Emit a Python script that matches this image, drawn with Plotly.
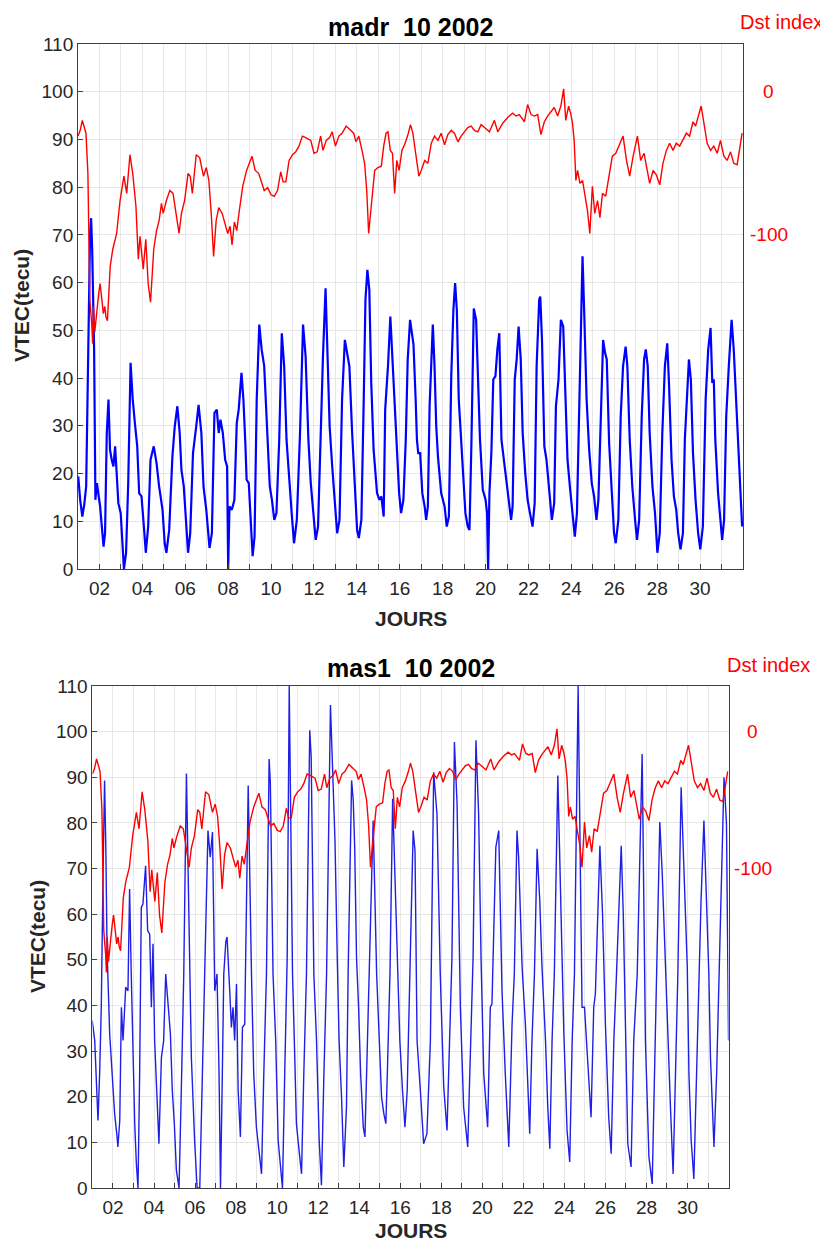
import plotly.graph_objects as go

# VTEC madr, octobre 2002 (jour du mois, tecu)
madr_days = [1.01, 1.10, 1.20, 1.29, 1.38, 1.44, 1.49, 1.56, 1.61, 1.66, 1.75, 1.81, 1.88, 1.95,
             2.03, 2.11, 2.19, 2.26, 2.34, 2.42, 2.49, 2.57, 2.65, 2.73, 2.80, 2.88, 2.99,
             3.08, 3.14, 3.24, 3.34, 3.45, 3.55, 3.65, 3.76, 3.85, 3.96,
             4.07, 4.16, 4.27, 4.38, 4.53, 4.66, 4.78, 4.94,
             5.04, 5.12, 5.25, 5.40, 5.51, 5.63, 5.74, 5.82, 5.93,
             6.02, 6.13, 6.23, 6.36, 6.51, 6.62, 6.75, 6.85, 6.98,
             7.05, 7.13, 7.24, 7.36, 7.47, 7.56, 7.64, 7.75, 7.86, 7.95,
             8.00, 8.06, 8.17, 8.29, 8.40, 8.49, 8.62, 8.71, 8.80, 8.86, 8.96,
             9.06, 9.14, 9.23, 9.33, 9.45, 9.56, 9.68, 9.84, 9.94,
             10.04, 10.15, 10.25, 10.38, 10.50, 10.61, 10.72, 10.84, 10.96,
             11.07, 11.20, 11.35, 11.49, 11.61, 11.74, 11.85, 11.95,
             12.08, 12.19, 12.31, 12.42, 12.54, 12.62, 12.73, 12.85, 12.97,
             13.08, 13.19, 13.31, 13.44, 13.55, 13.65, 13.78, 13.90,
             14.01, 14.09, 14.21, 14.32, 14.40, 14.49, 14.58, 14.67, 14.78, 14.94,
             15.05, 15.14, 15.25, 15.32, 15.45, 15.56, 15.63, 15.76, 15.86, 15.97,
             16.06, 16.17, 16.28, 16.37, 16.48, 16.56, 16.64, 16.74, 16.80, 16.86, 16.95,
             17.05, 17.16, 17.23, 17.31, 17.39, 17.47, 17.54, 17.62, 17.70, 17.78, 17.93,
             18.09, 18.19, 18.29, 18.40, 18.50, 18.58, 18.66, 18.75, 18.86, 18.97,
             19.06, 19.17, 19.25, 19.34, 19.45, 19.56, 19.65, 19.74, 19.87,
             20.00, 20.07, 20.12, 20.18, 20.27, 20.36, 20.46, 20.55, 20.64, 20.74, 20.83, 20.95,
             21.08, 21.19, 21.26, 21.36, 21.45, 21.54, 21.64, 21.73, 21.85, 21.96,
             22.07, 22.19, 22.29, 22.38, 22.50, 22.55, 22.63, 22.74, 22.84, 22.97,
             23.09, 23.20, 23.28, 23.40, 23.51, 23.62, 23.71, 23.82, 23.93,
             24.05, 24.16, 24.26, 24.36, 24.44, 24.52, 24.60, 24.71, 24.83, 24.95,
             25.06, 25.17, 25.26, 25.37, 25.48, 25.57, 25.65, 25.76, 25.87, 25.99,
             26.07, 26.19, 26.30, 26.41, 26.53, 26.61, 26.72, 26.84, 26.97,
             27.06, 27.16, 27.28, 27.39, 27.47, 27.56, 27.65, 27.78, 27.90,
             28.01, 28.12, 28.24, 28.36, 28.47, 28.55, 28.67, 28.78, 28.89, 28.98,
             29.09, 29.20, 29.29, 29.40, 29.48, 29.57, 29.67, 29.79, 29.91,
             30.01, 30.13, 30.26, 30.38, 30.49, 30.57, 30.64, 30.71, 30.84, 30.95,
             31.03, 31.12, 31.22, 31.34, 31.47, 31.57, 31.68, 31.81, 31.88, 31.96]
madr_vtec = [19.4, 14.5, 11.0, 13.5, 17.3, 35.5, 49.4, 70.0, 73.5, 66.9, 46.0, 14.5, 18.0, 16.0,
             13.1, 8.9, 4.7, 7.5, 28.5, 35.5, 25.0, 22.9, 21.5, 25.7, 20.1, 13.8, 11.7,
             4.7, 0.0, 3.4, 18.0, 43.2, 35.5, 30.6, 25.7, 15.9, 15.2,
             8.9, 3.4, 8.9, 22.9, 25.7, 22.2, 17.3, 12.4,
             5.4, 3.4, 8.2, 23.6, 29.9, 34.1, 28.5, 20.8, 17.3,
             11.0, 3.4, 7.5, 24.3, 29.9, 34.4, 28.5, 17.3, 12.4,
             8.2, 4.4, 7.5, 32.7, 33.4, 28.5, 31.3, 28.5, 22.9, 21.5,
             0.0, 13.1, 12.4, 14.5, 30.6, 33.4, 41.1, 35.5, 26.4, 18.7, 18.0,
             7.5, 2.7, 6.8, 35.5, 51.2, 46.0, 42.5, 27.8, 17.3,
             14.5, 10.3, 11.7, 27.1, 49.4, 42.5, 27.1, 18.7, 11.7,
             5.4, 10.3, 28.5, 51.2, 44.6, 27.1, 18.0, 12.4,
             6.1, 8.9, 28.5, 44.6, 58.8, 48.0, 29.9, 21.5, 14.5,
             7.5, 10.3, 35.5, 48.0, 44.6, 42.5, 28.5, 16.6,
             8.2, 6.5, 10.3, 35.5, 56.4, 62.7, 58.5, 39.0, 25.0, 15.9,
             14.5, 15.2, 11.0, 33.4, 42.5, 52.9, 46.0, 36.2, 26.4, 15.9,
             11.7, 14.5, 27.1, 43.9, 52.2, 49.4, 47.0, 35.5, 27.1, 24.3, 24.3,
             15.9, 13.1, 10.3, 13.1, 34.1, 42.5, 51.2, 42.5, 29.9, 23.6, 15.9,
             13.1, 8.9, 11.0, 40.4, 54.3, 59.9, 54.3, 35.5, 27.1, 17.3,
             11.7, 8.9, 8.2, 26.4, 54.6, 52.2, 41.1, 27.1, 16.6,
             14.5, 11.7, 0.0, 15.9, 24.3, 39.7, 40.4, 46.0, 49.4, 27.1, 23.6, 19.4,
             14.5, 10.3, 13.1, 39.7, 43.9, 50.8, 43.9, 28.5, 20.1, 14.5,
             11.7, 8.9, 13.8, 42.5, 56.4, 57.1, 48.0, 25.7, 22.9, 15.9,
             10.3, 13.8, 34.1, 39.7, 52.2, 50.8, 39.0, 22.9, 17.3,
             11.7, 6.8, 11.7, 35.5, 49.4, 65.5, 53.6, 35.5, 25.0, 18.0,
             15.2, 10.3, 14.5, 33.4, 48.0, 45.3, 43.9, 26.4, 15.9, 7.5,
             5.4, 10.3, 32.0, 42.5, 46.6, 42.5, 27.1, 17.3, 10.3,
             6.1, 10.3, 32.0, 43.9, 46.0, 42.5, 28.5, 17.3, 11.7,
             3.4, 7.5, 28.5, 42.5, 47.3, 39.0, 22.9, 15.2, 12.4, 7.5,
             4.1, 7.5, 27.1, 35.5, 43.9, 39.7, 24.3, 14.5, 7.5,
             4.1, 8.9, 35.5, 46.0, 50.5, 39.0, 39.7, 27.1, 15.9, 10.3,
             6.1, 10.3, 32.0, 42.5, 52.2, 46.0, 35.5, 21.5, 14.5, 8.9]

# VTEC mas1, octobre 2002
mas1_days = [0.99, 1.11, 1.19, 1.27, 1.35, 1.43, 1.52, 1.59, 1.65, 1.71, 1.84, 1.97,
             2.08, 2.20, 2.24, 2.33, 2.41, 2.49, 2.62, 2.73, 2.81, 2.89, 2.98,
             3.06, 3.14, 3.22, 3.30, 3.38, 3.46, 3.59, 3.69, 3.79, 3.87, 3.95,
             4.03, 4.15, 4.24, 4.36, 4.47, 4.57, 4.68, 4.80, 4.89, 4.99,
             5.09, 5.22, 5.33, 5.45, 5.58, 5.71, 5.82, 5.98,
             6.10, 6.23, 6.36, 6.47, 6.63, 6.74, 6.85, 6.96,
             7.07, 7.17, 7.24, 7.33, 7.40, 7.50, 7.56, 7.69, 7.77, 7.85, 7.93,
             8.02, 8.10, 8.21, 8.31, 8.42, 8.59, 8.75, 8.86, 8.99,
             9.12, 9.24, 9.35, 9.48, 9.61, 9.67, 9.80, 9.93,
             10.05, 10.16, 10.26, 10.37, 10.49, 10.59, 10.65, 10.75, 10.86, 10.94,
             11.07, 11.19, 11.30, 11.43, 11.59, 11.66, 11.79, 11.92,
             12.05, 12.16, 12.28, 12.41, 12.60, 12.66, 12.82, 12.93,
             13.02, 13.14, 13.25, 13.38, 13.46, 13.63, 13.71, 13.78, 13.87, 13.97,
             14.07, 14.20, 14.28, 14.36, 14.49, 14.68, 14.85, 14.98,
             15.09, 15.20, 15.30, 15.37, 15.50, 15.63, 15.72, 15.85, 15.98,
             16.11, 16.23, 16.34, 16.47, 16.63, 16.72, 16.82, 16.98,
             17.14, 17.30, 17.47, 17.63, 17.79, 17.95,
             18.12, 18.28, 18.41, 18.52, 18.64, 18.77, 18.93,
             19.09, 19.29, 19.42, 19.55, 19.69, 19.82, 19.94,
             20.07, 20.26, 20.39, 20.47, 20.66, 20.80, 20.96,
             21.12, 21.29, 21.45, 21.56, 21.69, 21.77, 21.94,
             22.10, 22.21, 22.31, 22.42, 22.54, 22.67, 22.80, 22.91,
             23.08, 23.19, 23.29, 23.40, 23.51, 23.68, 23.78, 23.89, 23.97,
             24.13, 24.26, 24.38, 24.49, 24.67, 24.78, 24.86, 24.98,
             25.19, 25.30, 25.43, 25.51, 25.73, 25.86,
             26.00, 26.16, 26.28, 26.41, 26.54, 26.77, 26.87, 26.98,
             27.09, 27.25, 27.38, 27.55, 27.71, 27.79, 27.95,
             28.12, 28.28, 28.39, 28.52, 28.65, 28.77, 28.98,
             29.09, 29.17, 29.30, 29.42, 29.53, 29.69, 29.79, 29.99,
             30.07, 30.18, 30.31, 30.47, 30.56, 30.66, 30.80,
             31.04, 31.12, 31.29, 31.42, 31.53, 31.78, 31.90, 31.94, 32.00]
mas1_vtec = [36.7, 32.3, 23.5, 14.8, 25.0, 39.6, 70.0, 89.3, 75.0, 52.7, 33.7, 25.0,
             16.3, 11.2, 9.0, 14.8, 39.6, 32.3, 44.0, 43.2, 65.5, 46.9, 27.2,
             14.1, 5.3, 0.0, 25.0, 61.5, 62.2, 70.6, 56.4, 55.6, 39.6, 53.5,
             32.3, 17.7, 9.7, 28.6, 32.3, 46.9, 39.6, 33.7, 21.4, 14.1,
             3.9, 0.0, 21.4, 46.9, 90.8, 54.0, 28.6, 10.4,
             0.0, 0.0, 25.0, 46.9, 78.3, 72.5, 78.0, 43.2,
             46.9, 25.0, 0.0, 25.0, 46.9, 54.0, 55.0, 43.2, 35.2, 39.6, 32.3,
             44.7, 21.4, 11.2, 35.2, 35.9, 88.2, 46.9, 25.0, 13.3,
             7.5, 3.1, 25.0, 46.9, 94.0, 88.6, 46.9, 32.3,
             10.4, 3.9, 0.0, 25.0, 50.5, 110.0, 90.0, 46.9, 28.6, 14.1,
             8.2, 3.1, 25.0, 46.9, 100.3, 94.4, 46.9, 32.3,
             10.4, 0.6, 25.0, 46.9, 105.8, 98.8, 76.1, 50.5,
             32.3, 19.9, 4.6, 17.7, 46.9, 89.3, 84.9, 74.7, 50.5, 39.6,
             25.0, 13.3, 11.2, 25.0, 46.9, 80.5, 46.9, 32.3,
             19.9, 16.3, 14.1, 25.0, 46.9, 85.3, 70.3, 50.5, 32.3,
             21.4, 13.3, 21.4, 46.9, 78.3, 73.9, 32.3, 21.4,
             9.7, 11.9, 32.3, 91.1, 82.0, 46.9,
             22.1, 12.6, 32.3, 50.5, 97.7, 84.2, 39.6,
             17.7, 9.0, 32.3, 50.5, 98.1, 82.0, 50.0,
             25.0, 13.3, 39.6, 40.3, 74.7, 78.3, 43.2,
             25.0, 9.0, 35.9, 46.9, 78.3, 72.5, 48.3,
             35.9, 23.5, 11.9, 32.3, 46.9, 74.3, 63.0, 48.3,
             32.3, 17.7, 8.6, 32.3, 46.9, 90.4, 71.0, 46.9, 34.5,
             12.6, 5.7, 32.3, 46.9, 110.0, 70.0, 39.6, 39.6,
             22.8, 15.5, 39.6, 42.5, 75.0, 60.0,
             35.9, 15.5, 7.5, 32.3, 46.9, 75.0, 60.0, 33.7,
             9.7, 4.6, 32.3, 46.9, 83.4, 95.1, 32.3,
             6.8, 0.9, 25.0, 46.9, 80.2, 68.8, 41.8,
             25.0, 17.7, 3.1, 25.0, 46.9, 87.8, 73.2, 48.3,
             25.0, 10.4, 2.0, 32.3, 50.5, 63.0, 80.5,
             46.9, 28.6, 9.0, 25.0, 46.9, 90.0, 79.8, 54.0, 32.3]

# indice Dst (nT)
dst_days = [1.00, 1.10, 1.20, 1.30, 1.37, 1.46, 1.50, 1.55, 1.60, 1.64, 1.68, 1.72, 1.78, 1.84, 1.90, 1.97,
            2.03, 2.10, 2.18, 2.25, 2.30, 2.37, 2.43, 2.50, 2.62, 2.80, 2.96,
            3.14, 3.27, 3.42, 3.55, 3.70, 3.81, 3.89, 4.04, 4.16, 4.27, 4.38, 4.53, 4.66, 4.78, 4.89, 4.97,
            5.12, 5.28, 5.43, 5.59, 5.71, 5.82, 5.97, 6.13, 6.23, 6.33, 6.51, 6.67, 6.85, 6.98,
            7.10, 7.21, 7.32, 7.44, 7.56, 7.72, 7.87, 7.98, 8.09, 8.18, 8.29, 8.40, 8.52, 8.68, 8.86,
            9.02, 9.11, 9.26, 9.42, 9.53, 9.68, 9.84, 10.00, 10.15, 10.30, 10.45, 10.56, 10.69, 10.84,
            11.00, 11.15, 11.30, 11.46, 11.61, 11.85, 12.00, 12.15, 12.31, 12.42, 12.57, 12.73, 12.85,
            13.00, 13.16, 13.31, 13.50, 13.70, 13.85, 13.96, 14.09, 14.24, 14.36, 14.46, 14.55, 14.67, 14.83, 14.98,
            15.14, 15.25, 15.36, 15.45, 15.56, 15.66, 15.76, 15.86, 15.97, 16.10, 16.25, 16.40, 16.50, 16.61, 16.77, 16.89,
            17.00, 17.16, 17.31, 17.47, 17.62, 17.78, 17.93, 18.09, 18.24, 18.40, 18.55, 18.71, 18.86,
            19.02, 19.17, 19.33, 19.48, 19.64, 19.79, 19.95, 20.18, 20.41, 20.57, 20.80,
            21.03, 21.26, 21.42, 21.57, 21.81, 21.96, 22.12, 22.27, 22.43, 22.58, 22.74, 22.89,
            23.05, 23.20, 23.36, 23.51, 23.64, 23.74, 23.87, 23.98, 24.05, 24.13, 24.21, 24.29, 24.40, 24.52, 24.64, 24.75, 24.86, 24.98,
            25.09, 25.22, 25.33, 25.45, 25.60, 25.76, 25.91, 26.07, 26.22, 26.41, 26.57, 26.72, 26.88,
            27.08, 27.23, 27.39, 27.50, 27.65, 27.81, 27.96, 28.12, 28.27, 28.43, 28.58, 28.74, 28.89,
            29.05, 29.20, 29.36, 29.51, 29.67, 29.79, 29.95, 30.05, 30.18, 30.33, 30.49, 30.64, 30.80, 30.95,
            31.11, 31.26, 31.42, 31.57, 31.73, 31.84, 31.96]
dst_values = [-31, -27, -20, -25, -29, -57, -100, -145, -155, -162, -176, -150, -168, -158, -150, -140,
              -134, -145, -155, -150, -157, -160, -140, -122, -110, -99, -76,
              -59, -71, -44, -57, -80, -117, -101, -124, -103, -134, -147, -110, -97, -90, -78, -85,
              -76, -69, -71, -87, -99, -85, -76, -57, -59, -71, -44, -46, -59, -53,
              -62, -85, -115, -90, -81, -85, -93, -99, -94, -107, -91, -97, -83, -66, -55,
              -48, -45, -55, -57, -62, -69, -67, -72, -73, -69, -56, -63, -63, -48,
              -44, -42, -38, -31, -32, -34, -43, -42, -31, -41, -34, -32, -28,
              -38, -31, -29, -24, -27, -29, -35, -31, -41, -50, -69, -99, -80, -55, -53,
              -52, -38, -29, -28, -41, -43, -71, -48, -55, -41, -36, -29, -23, -29, -48, -59,
              -55, -48, -50, -36, -31, -34, -29, -37, -30, -27, -29, -35, -31,
              -28, -25, -24, -27, -28, -23, -25, -28, -20, -28, -22,
              -18, -15, -17, -16, -21, -9, -16, -17, -16, -30, -21, -17,
              -14, -11, -17, -10, 2, -20, -10, -16, -22, -34, -62, -55, -64, -62, -73, -83, -99, -66,
              -85, -76, -88, -71, -73, -59, -45, -43, -38, -31, -48, -59, -45,
              -31, -48, -43, -52, -64, -55, -58, -65, -50, -41, -36, -41, -36,
              -38, -34, -29, -31, -21, -24, -16, -10, -22, -36, -41, -38, -43, -34,
              -45, -48, -42, -50, -51, -41, -29]

day_ticks = list(range(1, 33))
day_labels = ["%02d" % d if d % 2 == 0 and d <= 30 else "" for d in day_ticks]
vtec_ticks = list(range(0, 111, 10))
dst_ticks = [0, -100]

tick_font = dict(family="Liberation Sans, Arial, sans-serif", size=19, color="#262626")
grid = "#e6e6e6"
frame = "#404040"

fig = go.Figure()
fig.add_trace(go.Scatter(x=madr_days, y=madr_vtec, mode="lines", xaxis="x", yaxis="y",
                         line=dict(color="#0000ff", width=2.2), showlegend=False))
fig.add_trace(go.Scatter(x=dst_days, y=dst_values, mode="lines", xaxis="x", yaxis="y2",
                         line=dict(color="#ff0000", width=1.4), showlegend=False))
fig.add_trace(go.Scatter(x=mas1_days, y=mas1_vtec, mode="lines", xaxis="x2", yaxis="y3",
                         line=dict(color="#1f1fe6", width=1.4), showlegend=False))
fig.add_trace(go.Scatter(x=dst_days, y=dst_values, mode="lines", xaxis="x2", yaxis="y4",
                         line=dict(color="#ff0000", width=1.4), showlegend=False))

xcommon = dict(range=[1, 32], tickmode="array", tickvals=day_ticks, ticktext=day_labels,
               ticks="inside", ticklen=5, tickcolor=frame, showgrid=True, gridcolor=grid,
               showline=True, linecolor=frame, linewidth=1, mirror=True, zeroline=False,
               tickfont=tick_font, ticklabelstandoff=2, automargin=False)
ycommon = dict(range=[0, 110], tickmode="array", tickvals=vtec_ticks,
               ticks="inside", ticklen=5, tickcolor=frame, showgrid=True, gridcolor=grid,
               showline=True, linecolor=frame, linewidth=1, mirror=True, zeroline=False,
               tickfont=tick_font, automargin=False)
dcommon = dict(range=[-333.33, 33.33], showgrid=False, showticklabels=False, ticks="",
               zeroline=False, side="right", automargin=False)

# la page ajoute 8 px de marge autour de la figure
fig.update_layout(
    width=820, height=1236,
    margin=dict(l=0, r=0, t=0, b=0, pad=0, autoexpand=False),
    paper_bgcolor="white", plot_bgcolor="white",
    xaxis=dict(domain=[0.0854, 0.8963], anchor="y", **xcommon),
    yaxis=dict(domain=[0.5461, 0.9709], anchor="x", **ycommon),
    yaxis2=dict(overlaying="y", anchor="x", **dcommon),
    xaxis2=dict(domain=[0.1030, 0.8787], anchor="y3", **xcommon),
    yaxis3=dict(domain=[0.0453, 0.4515], anchor="x2", **ycommon),
    yaxis4=dict(overlaying="y3", anchor="x2", **dcommon),
)

bold = dict(family="Liberation Sans, Arial, sans-serif", size=21, color="#262626")
title_font = dict(family="Liberation Sans, Arial, sans-serif", size=25, color="black")
red_font = dict(family="Liberation Sans, Arial, sans-serif", size=20, color="#ff0000")
red_tick = dict(family="Liberation Sans, Arial, sans-serif", size=19, color="#ff0000")

panels = [("madr  10 2002", 0.4909, 0.9846, 0.5057, 0.0171, 0.7589, 0.8902, 0.9887, 0.9280, "y2"),
          ("mas1  10 2002", 0.4915, 0.4660, 0.0113, 0.0366, 0.2484, 0.8744, 0.4685, 0.9085, "y4")]
for title, tx, ty, jy, vx, vy, dx, dy, lx, yref in panels:
    fig.add_annotation(text="<b>%s</b>" % title, x=tx, y=ty, xref="paper", yref="paper",
                       showarrow=False, font=title_font, xanchor="center", yanchor="middle")
    fig.add_annotation(text="<b>JOURS</b>", x=tx, y=jy, xref="paper", yref="paper",
                       showarrow=False, font=bold, xanchor="center", yanchor="middle")
    fig.add_annotation(text="<b>VTEC(tecu)</b>", x=vx, y=vy, xref="paper", yref="paper",
                       showarrow=False, font=bold, textangle=-90, xanchor="center", yanchor="middle")
    fig.add_annotation(text="Dst index", x=dx, y=dy, xref="paper", yref="paper",
                       showarrow=False, font=red_font, xanchor="left", yanchor="middle")
    for v in dst_ticks:
        fig.add_annotation(text=str(v), x=lx, y=v, xref="paper", yref=yref,
                           showarrow=False, font=red_tick, xanchor="center", yanchor="middle")

fig.write_html("out.html")
